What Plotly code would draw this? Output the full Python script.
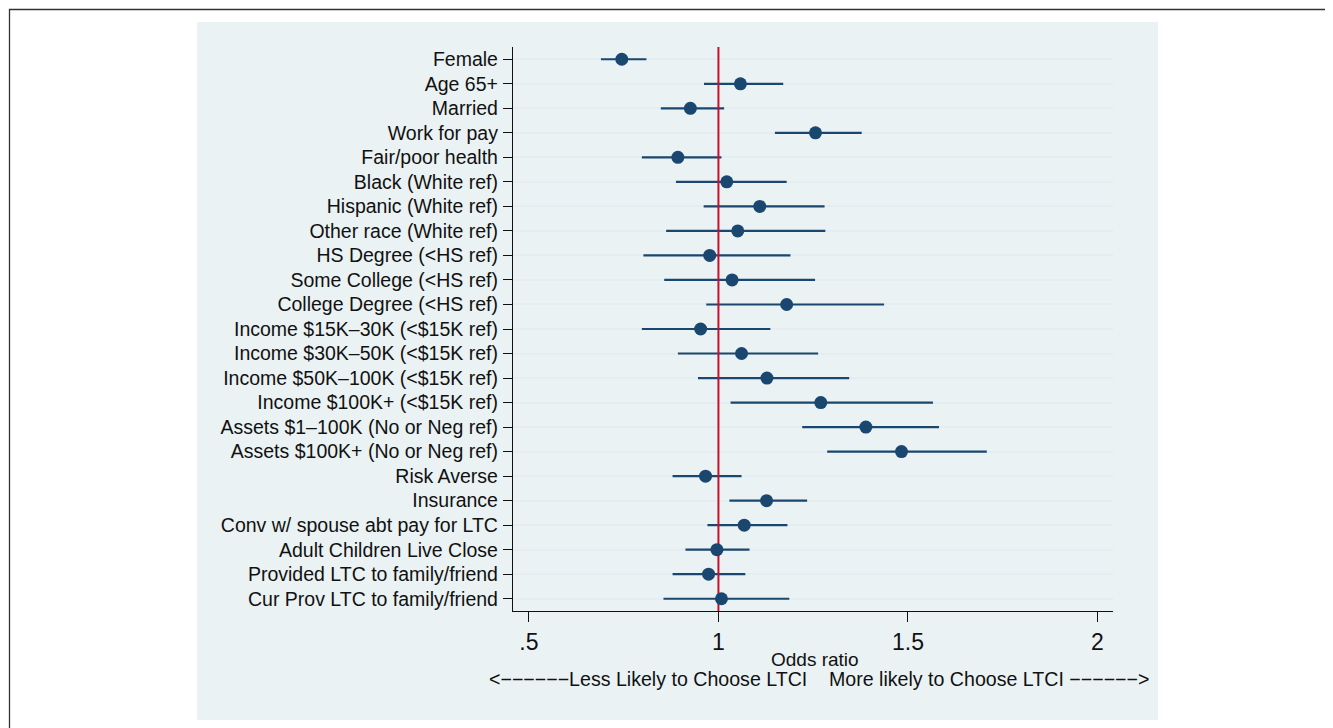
import plotly.graph_objects as go

labels = [
    "Female", "Age 65+", "Married", "Work for pay", "Fair/poor health",
    "Black (White ref)", "Hispanic (White ref)", "Other race (White ref)",
    "HS Degree (<HS ref)", "Some College (<HS ref)", "College Degree (<HS ref)",
    "Income $15K–30K (<$15K ref)", "Income $30K–50K (<$15K ref)",
    "Income $50K–100K (<$15K ref)", "Income $100K+ (<$15K ref)",
    "Assets $1–100K (No or Neg ref)", "Assets $100K+ (No or Neg ref)",
    "Risk Averse", "Insurance", "Conv w/ spouse abt pay for LTC",
    "Adult Children Live Close", "Provided LTC to family/friend",
    "Cur Prov LTC to family/friend",
]
odds_ratio = [0.745, 1.058, 0.926, 1.256, 0.893, 1.022, 1.109, 1.051, 0.977,
              1.036, 1.180, 0.953, 1.061, 1.128, 1.270, 1.389, 1.483, 0.966,
              1.127, 1.068, 0.996, 0.974, 1.008]
ci_low = [0.690, 0.962, 0.848, 1.149, 0.798, 0.888, 0.961, 0.862, 0.802,
          0.857, 0.968, 0.798, 0.893, 0.946, 1.032, 1.221, 1.287, 0.879,
          1.029, 0.971, 0.913, 0.879, 0.855]
ci_high = [0.810, 1.171, 1.015, 1.378, 1.008, 1.180, 1.280, 1.282, 1.190,
           1.255, 1.437, 1.137, 1.263, 1.345, 1.566, 1.582, 1.708, 1.061,
           1.234, 1.182, 1.082, 1.071, 1.187]
x_tickvals = [0.5, 1, 1.5, 2]
x_ticktext = [".5", "1", "1.5", "2"]
ref_value = 1
x_title = "Odds ratio"
note = ("<−−−−−−Less Likely to Choose LTCI\u00a0\u00a0\u00a0\u00a0"
        "More likely to Choose LTCI −−−−−−>")

NAVY = "#1a476f"
RED = "#c8102e"
PANEL = "#eaf2f3"
GRID = "#e4eef0"
FONT = "Liberation Sans, Arial, Helvetica, sans-serif"

OFF = 8  # page body margin offset
W, H = 1333 - OFF, 728 - OFF
ML, MT = 513 - OFF, 47 - OFF
MR = W - (1113 - OFF)
MB = H - (611 - OFF)
PW, PH = W - ML - MR, H - MT - MB


def px_x(p):
    return (p - OFF - ML) / PW


def px_y(p):
    return (H - MB - (p - OFF)) / PH


rows = list(range(len(labels)))
err_plus = [h - o for h, o in zip(ci_high, odds_ratio)]
err_minus = [o - l for o, l in zip(odds_ratio, ci_low)]

fig = go.Figure()
fig.add_trace(go.Scatter(
    x=odds_ratio, y=rows, mode="markers",
    marker=dict(size=1, color=NAVY, opacity=0),
    error_x=dict(type="data", symmetric=False, array=err_plus,
                 arrayminus=err_minus, width=0, thickness=2.2, color=NAVY),
    hoverinfo="skip", showlegend=False,
))
fig.add_trace(go.Scatter(
    x=[ref_value, ref_value], y=[-0.5, len(labels) - 0.5], mode="lines",
    line=dict(color=RED, width=2), hoverinfo="skip", showlegend=False,
))
fig.add_trace(go.Scatter(
    x=odds_ratio, y=rows, mode="markers",
    marker=dict(size=13, color=NAVY, line=dict(width=0)),
    showlegend=False,
))

fig.update_layout(
    width=W, height=H,
    margin=dict(l=ML, r=MR, t=MT, b=MB, pad=0),
    paper_bgcolor="white", plot_bgcolor="white",
    font=dict(family=FONT, color="#111111"),
    showlegend=False,
    xaxis=dict(
        range=[0.458, 2.041], tickvals=x_tickvals, ticktext=x_ticktext,
        showgrid=False, zeroline=False, showline=True, linecolor="#111111",
        linewidth=1.3, ticks="outside", ticklen=10, tickwidth=1.3,
        tickcolor="#111111", tickfont=dict(size=23, family=FONT),
    ),
    yaxis=dict(
        range=[len(labels) - 0.5, -0.5], tickvals=rows, ticktext=labels,
        showgrid=True, gridcolor=GRID, gridwidth=1.6, zeroline=False,
        showline=True, linecolor="#111111", linewidth=1.3,
        ticks="outside", ticklen=9, tickwidth=1.3, tickcolor="#111111",
        tickfont=dict(size=19.5, family=FONT), ticklabelstandoff=1,
    ),
    shapes=[
        dict(type="rect", xref="paper", yref="paper", layer="below",
             x0=px_x(197), x1=px_x(1158), y0=px_y(720), y1=px_y(22),
             fillcolor=PANEL, line=dict(width=0)),
        dict(type="rect", xref="paper", yref="paper", layer="below",
             x0=px_x(9.5), x1=px_x(1400), y0=px_y(800), y1=px_y(9.5),
             fillcolor="rgba(0,0,0,0)", line=dict(color="#333333", width=1.3)),
    ],
    annotations=[
        dict(text=x_title, xref="paper", yref="paper", x=px_x(815),
             y=px_y(659), xanchor="center", yanchor="middle",
             showarrow=False, font=dict(size=19, family=FONT, color="#111111")),
        dict(text=note, xref="paper", yref="paper", x=px_x(818.5),
             y=px_y(679), xanchor="center", yanchor="middle",
             showarrow=False, font=dict(size=19.6, family=FONT, color="#111111")),
    ],
)

fig.write_html("out.html")
